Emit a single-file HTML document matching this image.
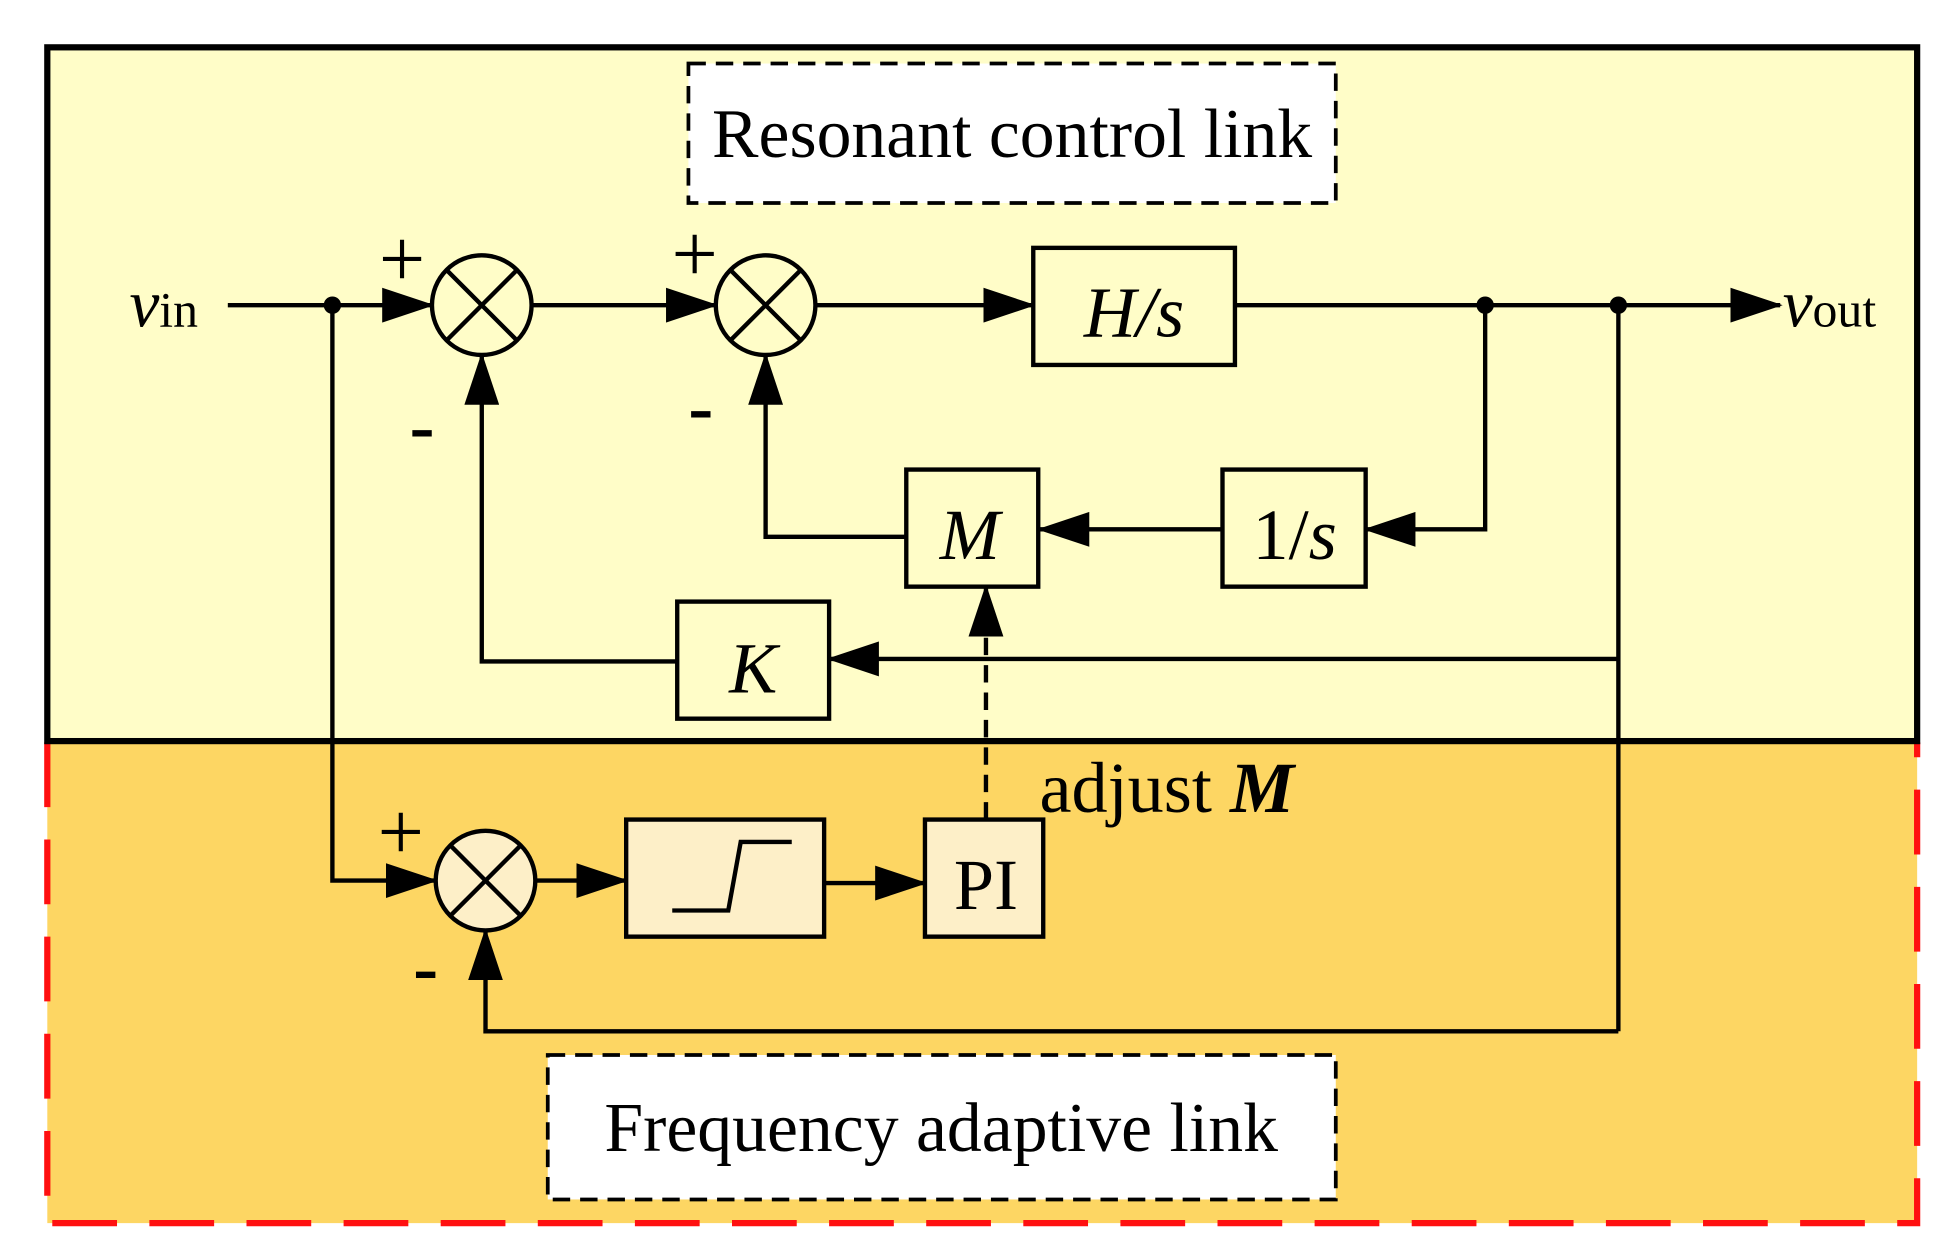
<!DOCTYPE html>
<html><head><meta charset="utf-8"><style>
html,body{margin:0;padding:0;background:#fff;}
svg{display:block;}
text{font-family:"Liberation Serif",serif;fill:#000;}
</style></head><body>
<svg width="1952" height="1258" viewBox="0 0 1568 1010" preserveAspectRatio="none" xmlns="http://www.w3.org/2000/svg">
<defs>
<marker id="a" markerWidth="42" markerHeight="28" refX="40" refY="14" orient="auto" markerUnits="userSpaceOnUse">
<path d="M0,0 L42,14 L0,28 Z" fill="#000"/></marker>
</defs>
<rect x="0" y="0" width="1568" height="1010" fill="#fff"/>
<rect x="38" y="596" width="1502" height="386" fill="#FDD663"/>
<path d="M38,596 L38,982 L1540,982 L1540,596" fill="none" stroke="#ff1010" stroke-width="5" stroke-dasharray="52,26"/>
<rect x="38" y="38" width="1502" height="557" fill="#FFFDC8" stroke="#000" stroke-width="5"/>
<rect x="553" y="51" width="520" height="112" fill="#fff" stroke="#000" stroke-width="3" stroke-dasharray="14,8"/>
<text x="813" y="126" font-size="56" text-anchor="middle">Resonant control link</text>
<rect x="440" y="847" width="633" height="116" fill="#fff" stroke="#000" stroke-width="3" stroke-dasharray="14,8"/>
<text x="756" y="924" font-size="56" text-anchor="middle">Frequency adaptive link</text>
<g stroke="#000" stroke-width="3.5" fill="none">
<line x1="183" y1="245" x2="347" y2="245" marker-end="url(#a)"/>
<line x1="427" y1="245" x2="575" y2="245" marker-end="url(#a)"/>
<line x1="655" y1="245" x2="830" y2="245" marker-end="url(#a)"/>
<line x1="992" y1="245" x2="1430" y2="245" marker-end="url(#a)"/>
<polyline points="1193,245 1193,425 1097,425" marker-end="url(#a)"/>
<line x1="982" y1="425" x2="835" y2="425" marker-end="url(#a)"/>
<polyline points="728,431 615,431 615,285" marker-end="url(#a)"/>
<line x1="1300" y1="245" x2="1300" y2="828"/>
<line x1="1300" y1="529" x2="666" y2="529" marker-end="url(#a)"/>
<polyline points="544,531 387,531 387,285" marker-end="url(#a)"/>
<line x1="792" y1="658" x2="792" y2="471" stroke-dasharray="14,8" marker-end="url(#a)"/>
<polyline points="267,245 267,707 350,707" marker-end="url(#a)"/>
<line x1="430" y1="707" x2="503" y2="707" marker-end="url(#a)"/>
<line x1="662" y1="709" x2="743" y2="709" marker-end="url(#a)"/>
<polyline points="1300,828 390,828 390,747" marker-end="url(#a)"/>
</g>
<circle cx="267" cy="245" r="7" fill="#000"/>
<circle cx="1193" cy="245" r="7" fill="#000"/>
<circle cx="1300" cy="245" r="7" fill="#000"/>
<g stroke="#000" stroke-width="3.5">
<circle cx="387" cy="245" r="40" fill="#FFFDC8"/>
<line x1="359" y1="217" x2="415" y2="273"/><line x1="415" y1="217" x2="359" y2="273"/>
<circle cx="615" cy="245" r="40" fill="#FFFDC8"/>
<line x1="587" y1="217" x2="643" y2="273"/><line x1="643" y1="217" x2="587" y2="273"/>
<circle cx="390" cy="707" r="40" fill="#FDEFC8"/>
<line x1="362" y1="679" x2="418" y2="735"/><line x1="418" y1="679" x2="362" y2="735"/>
</g>
<g stroke="#000" stroke-width="3.5">
<rect x="830" y="199" width="162" height="94" fill="#FFFDC8"/>
<rect x="982" y="377" width="115" height="94" fill="#FFFDC8"/>
<rect x="728" y="377" width="106" height="94" fill="#FFFDC8"/>
<rect x="544" y="483" width="122" height="94" fill="#FFFDC8"/>
<rect x="503" y="658" width="159" height="94" fill="#FDEFC8"/>
<rect x="743" y="658" width="95" height="94" fill="#FDEFC8"/>
<polyline points="540,731 585,731 595,676 636,676" fill="none"/>
</g>
<text x="911" y="270" font-size="58" font-style="italic" text-anchor="middle">H/s</text>
<text x="1040" y="449" font-size="58" text-anchor="middle">1/<tspan font-style="italic">s</tspan></text>
<text x="779" y="449" font-size="58" font-style="italic" text-anchor="middle">M</text>
<text x="605" y="556" font-size="58" font-style="italic" text-anchor="middle">K</text>
<text x="792" y="730" font-size="58" text-anchor="middle">PI</text>
<text x="835" y="652" font-size="58">adjust <tspan font-style="italic" font-weight="bold">M</tspan></text>
<text x="104" y="262" font-size="54"><tspan font-style="italic">v</tspan><tspan font-size="40">in</tspan></text>
<text x="1432" y="262" font-size="54"><tspan font-style="italic">v</tspan><tspan font-size="40">out</tspan></text>
<text x="323" y="230" font-size="66" text-anchor="middle">+</text>
<text x="558" y="226" font-size="66" text-anchor="middle">+</text>
<text x="322" y="690" font-size="66" text-anchor="middle">+</text>
<text x="339" y="362" font-size="60" font-weight="bold" text-anchor="middle">-</text>
<text x="563" y="347" font-size="60" font-weight="bold" text-anchor="middle">-</text>
<text x="342" y="797" font-size="60" font-weight="bold" text-anchor="middle">-</text>
</svg>
</body></html>
